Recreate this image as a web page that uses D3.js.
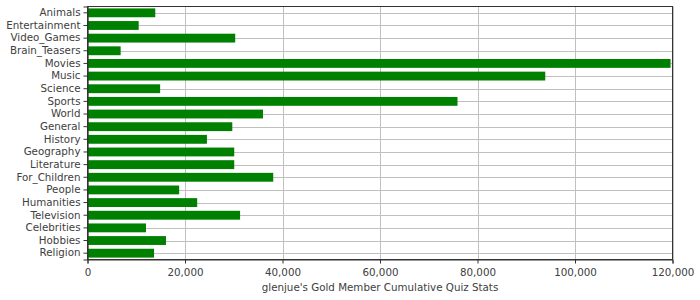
<!DOCTYPE html>
<html>
<head>
<meta charset="utf-8">
<script src="https://cdn.jsdelivr.net/npm/d3@7"></script>
<style>
  html, body { margin: 0; padding: 0; background: #fff; }
  svg text { font-family: "DejaVu Sans", sans-serif; fill: #404040; }
</style>
</head>
<body>
<svg id="chart" width="700" height="300"></svg>
<script>
const categories = ["Animals","Entertainment","Video_Games","Brain_Teasers","Movies","Music","Science","Sports","World","General","History","Geography","Literature","For_Children","People","Humanities","Television","Celebrities","Hobbies","Religion"];
const values = [13900, 10500, 30300, 6800, 119600, 93900, 14900, 75900, 36000, 29700, 24500, 30100, 30100, 38100, 18800, 22500, 31300, 12000, 16100, 13650];
const xTicks = [0, 20000, 40000, 60000, 80000, 100000, 120000];
const axisTitle = "glenjue's Gold Member Cumulative Quiz Stats";

(function () {
const svg = d3.select("#chart");
const pL = 87.5, pR = 672.5, pT = 6.5, pB = 259.5;

const x = d3.scaleLinear().domain([0, 120000]).range([pL, pR]);
const y = d3.scaleBand().domain(categories).range([pT, pB]).paddingInner(0.3).paddingOuter(0.15);

svg.append("rect").attr("x", pL).attr("y", pT).attr("width", pR - pL).attr("height", pB - pT).attr("fill", "#fff");

// vertical gridlines
svg.append("g").selectAll("line").data(xTicks).join("line")
  .attr("x1", d => Math.round(x(d)) + 0.5).attr("x2", d => Math.round(x(d)) + 0.5)
  .attr("y1", pT).attr("y2", pB)
  .attr("stroke", "#c0c0c0").attr("stroke-width", 1);

// horizontal gridlines at category centres
svg.append("g").selectAll("line").data(categories).join("line")
  .attr("x1", pL).attr("x2", pR)
  .attr("y1", d => Math.round(y(d) + y.bandwidth() / 2) + 0.5)
  .attr("y2", d => Math.round(y(d) + y.bandwidth() / 2) + 0.5)
  .attr("stroke", "#c0c0c0").attr("stroke-width", 1);

// bars
svg.append("g").selectAll("rect").data(categories).join("rect")
  .attr("x", x(0))
  .attr("y", d => y(d))
  .attr("width", (d, i) => x(values[i]) - x(0))
  .attr("height", y.bandwidth())
  .attr("fill", "#008000");

// plot outline
svg.append("rect").attr("x", pL).attr("y", pT).attr("width", pR - pL).attr("height", pB - pT)
  .attr("fill", "none").attr("stroke", "#333").attr("stroke-width", 1);

// y axis
const yAxis = svg.append("g").attr("transform", `translate(${pL},0)`)
  .call(d3.axisLeft(y).tickSize(4).tickPadding(3));
yAxis.select(".domain").attr("stroke", "#333");
yAxis.selectAll(".tick line").attr("stroke", "#333");
yAxis.selectAll("text").style("font-size", "10.3px").attr("fill", "#404040");

// x axis
const xAxis = svg.append("g").attr("transform", `translate(0,${pB})`)
  .call(d3.axisBottom(x).tickValues(xTicks).tickFormat(d3.format(",")).tickSize(4).tickPadding(5));
xAxis.select(".domain").attr("stroke", "#333");
xAxis.selectAll(".tick line").attr("stroke", "#333");
xAxis.selectAll("text").style("font-size", "10.3px").attr("fill", "#404040");

svg.append("text").attr("x", (pL + pR) / 2).attr("y", 291)
  .attr("text-anchor", "middle").style("font-size", "10.3px")
  .text(axisTitle);
})();
</script>
</body>
</html>
